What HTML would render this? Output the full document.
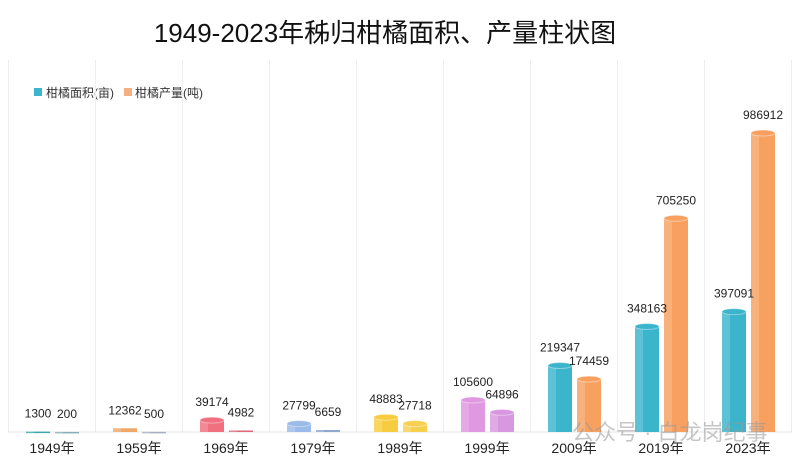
<!DOCTYPE html>
<html><head><meta charset="utf-8"><style>
body{margin:0;background:#fff;width:800px;height:461px;overflow:hidden;font-family:"Liberation Sans","Noto Sans CJK SC",sans-serif}
</style></head><body>
<svg id="chart" width="800" height="461" xmlns="http://www.w3.org/2000/svg">
<text x="385" y="42" text-anchor="middle" font-size="26" fill="#111" font-family="Liberation Sans, Noto Sans CJK SC, sans-serif">1949-2023年秭归柑橘面积、产量柱状图</text>
<g font-size="12" fill="#333">
<rect x="34" y="88" width="8" height="8" fill="#3ab5cc"/>
<text x="46" y="97">柑橘面积(亩)</text>
<rect x="124" y="88" width="8" height="8" fill="#f5b080"/>
<text x="135" y="97">柑橘产量(吨)</text>
</g>
<g id="grid"></g><g id="bars"></g><g id="labels"></g>
<text x="572" y="440" font-size="22" fill="#999" opacity="0.55">公众号 · 白龙岗纪事</text>
</svg>
<script>
const categories=["1949年","1959年","1969年","1979年","1989年","1999年","2009年","2019年","2023年"];
const areaValues=[1300,12362,39174,27799,48883,105600,219347,348163,397091];
const outputValues=[200,500,4982,6659,27718,64896,174459,705250,986912];
const areaColors=["#3aa8a8","#f0a868","#f07080","#9bbbe8","#f8cc40","#e098e0","#3ab5cc","#3ab5cc","#3ab5cc"];
const outputColors=["#88b0b8","#a8b0c0","#e06878","#90a8d0","#f8d050","#d898e0","#f8a060","#f8a060","#f8a060"];
const svg=document.getElementById('chart');
const NS="http://www.w3.org/2000/svg";
const baseY=432, scale=0.000303, x0=52, step=87, bw=24;
function xC(i){return x0+i*step;}
function yV(v){return baseY-v*scale;}
function mk(tag,attrs,parent){const e=document.createElementNS(NS,tag);for(const k in attrs)e.setAttribute(k,attrs[k]);parent.appendChild(e);return e;}
const grid=document.getElementById('grid'),bars=document.getElementById('bars'),labels=document.getElementById('labels');
for(let i=0;i<=categories.length;i++){
  const l=mk('line',{x1:xC(i)-step/2,x2:xC(i)-step/2,y1:60,y2:baseY,stroke:'#eee','stroke-width':1},grid);
  
  
}
const ax=mk('line',{x1:8,x2:792,y1:baseY,y2:baseY,stroke:'#e4e4e4'},grid);


function bar(cx,v,color,name,label){
  const y=yV(v), h=baseY-y;
  const g=mk('g',{},bars);
  
  
  mk('rect',{x:cx-bw/2,y:y,width:bw,height:Math.max(h,1.5),fill:color},g);
  mk('rect',{x:cx-bw/2,y:y,width:bw/3,height:Math.max(h,1.5),fill:'#fff',opacity:0.18},g);
  if(h>8) mk('ellipse',{cx:cx,cy:y,rx:bw/2,ry:3,fill:color,stroke:'#fff','stroke-opacity':0.4},g);
  const t=mk('text',{x:cx,y:y-14,'text-anchor':'middle','font-size':12,fill:'#222'},labels);
  t.textContent=label;
  
  
}
categories.forEach((c,i)=>{
  bar(xC(i)-14,areaValues[i],areaColors[i],'bar-area-'+c,String(areaValues[i]));
  bar(xC(i)+15,outputValues[i],outputColors[i],'bar-output-'+c,String(outputValues[i]));
  const t=mk('text',{x:xC(i),y:453,'text-anchor':'middle','font-size':14,fill:'#222'},labels);
  t.textContent=c;
  
  
});
</script>
</body></html>
